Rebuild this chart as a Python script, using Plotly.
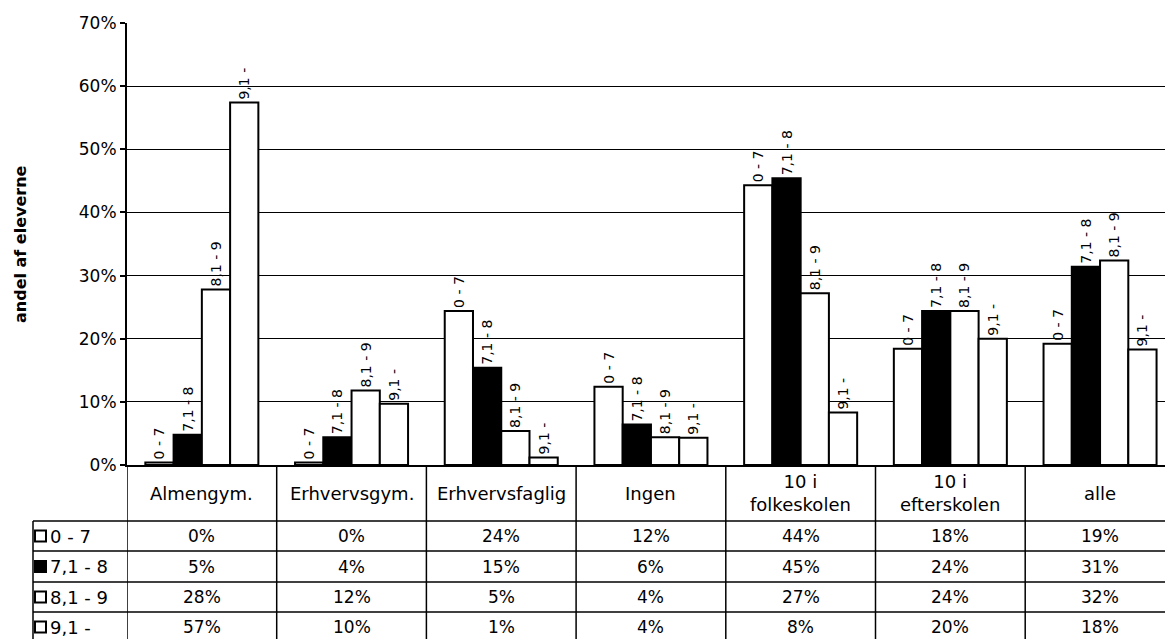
import plotly.graph_objects as go

# ---------------- data ----------------
categories = ["Almengym.", "Erhvervsgym.", "Erhvervsfaglig", "Ingen",
              "10 i folkeskolen", "10 i efterskolen", "alle"]
header_labels = ["Almengym.", "Erhvervsgym.", "Erhvervsfaglig", "Ingen",
                 "10 i<br>folkeskolen", "10 i<br>efterskolen", "alle"]
series_names = ["0 - 7", "7,1 - 8", "8,1 - 9", "9,1 -"]
s_0_7 = [0.4, 0.4, 24.4, 12.4, 44.3, 18.4, 19.2]
s_71_8 = [4.8, 4.4, 15.4, 6.4, 45.4, 24.4, 31.4]
s_81_9 = [27.8, 11.8, 5.4, 4.4, 27.2, 24.4, 32.4]
s_91 = [57.4, 9.7, 1.2, 4.3, 8.3, 20.0, 18.3]
series_values = [s_0_7, s_71_8, s_81_9, s_91]
series_fill = ["white", "black", "white", "white"]
y_ticks = [0, 10, 20, 30, 40, 50, 60, 70]
y_tick_labels = [f"{v}%" for v in y_ticks]

# ---------------- geometry (pixels) ----------------
W, H = 1165, 639
L, R, T, B = 127, 1165, 23, 465
UNIT = 149.7  # px per category column
FONT = "DejaVu Sans"


def py(Y):
    return (B - Y) / (B - T)


def pxp(X):
    return (X - L) / (R - L)


fig = go.Figure()
for name, vals, fill in zip(series_names, series_values, series_fill):
    fig.add_trace(go.Bar(
        x=categories, y=vals, name=name,
        marker=dict(color=fill, line=dict(color="black", width=2)),
        text=[name] * len(vals),
        textposition="outside", textangle=-90,
        constraintext="none", cliponaxis=False,
        outsidetextfont=dict(family=FONT, size=14, color="black"),
        hoverinfo="x+y+name",
    ))

shapes = []
line_style = dict(color="black", width=1.5)
row_lines = [521, 551, 582, 612]
bottom = 645
# vertical column separators of the table
for k in range(len(categories) + 1):
    shapes.append(dict(type="line", xref="x", yref="paper",
                       x0=k - 0.5, x1=k - 0.5, y0=py(B), y1=py(bottom),
                       line=line_style))
# legend column left border
shapes.append(dict(type="line", xref="paper", yref="paper",
                   x0=pxp(33), x1=pxp(33), y0=py(row_lines[0]), y1=py(bottom),
                   line=line_style))
# horizontal row lines
for Y in row_lines:
    shapes.append(dict(type="line", xref="paper", yref="paper",
                       x0=pxp(33), x1=1, y0=py(Y), y1=py(Y), line=line_style))

annotations = []
# header labels
for i, lab in enumerate(header_labels):
    annotations.append(dict(xref="x", yref="paper", x=i, y=py(493),
                            xanchor="center", yanchor="middle",
                            text=lab, showarrow=False,
                            font=dict(family=FONT, size=18, color="black")))
row_centers = [536, 566.5, 597, 627]
for r, (name, vals, fill) in enumerate(zip(series_names, series_values, series_fill)):
    Yc = row_centers[r]
    # legend key
    shapes.append(dict(type="rect", xref="paper", yref="paper",
                       x0=pxp(35), x1=pxp(46), y0=py(Yc - 5.5), y1=py(Yc + 5.5),
                       fillcolor=fill, line=dict(color="black", width=2)))
    annotations.append(dict(xref="paper", yref="paper", x=pxp(48), y=py(Yc),
                            xanchor="left", yanchor="middle",
                            text=name, showarrow=False,
                            font=dict(family=FONT, size=18, color="black")))
    for i, v in enumerate(vals):
        annotations.append(dict(xref="x", yref="paper", x=i, y=py(Yc),
                                xanchor="center", yanchor="middle",
                                text=f"{round(v)}%", showarrow=False,
                                font=dict(family=FONT, size=17, color="black")))

# y axis title
annotations.append(dict(xref="paper", yref="paper", x=pxp(20), y=0.5,
                        xanchor="center", yanchor="middle",
                        text="<b>andel af eleverne</b>", textangle=-90,
                        showarrow=False,
                        font=dict(family=FONT, size=16, color="black")))

fig.update_layout(
    width=W, height=H,
    margin=dict(l=L, r=W - R, t=T, b=H - B, pad=0),
    paper_bgcolor="white", plot_bgcolor="white",
    barmode="group", bargap=0.245, bargroupgap=0,
    showlegend=False,
    font=dict(family=FONT, color="black"),
    xaxis=dict(type="category", range=[-0.5, -0.5 + (R - L) / UNIT],
               showticklabels=False, showgrid=False, zeroline=False,
               showline=True, linecolor="black", linewidth=2, ticks=""),
    yaxis=dict(range=[0, 70], tickmode="array", tickvals=y_ticks,
               ticktext=y_tick_labels,
               showgrid=True, gridcolor="black", gridwidth=1.2,
               zeroline=False, showline=True, linecolor="black", linewidth=2,
               ticks="outside", ticklen=5, tickcolor="black", tickwidth=1.5,
               tickfont=dict(family=FONT, size=17, color="black")),
    shapes=shapes,
    annotations=annotations,
)

fig.write_html("out.html",
               config={"displayModeBar": False},
               post_script="document.body.style.margin='0px';"
                           "document.body.style.overflow='hidden';")
